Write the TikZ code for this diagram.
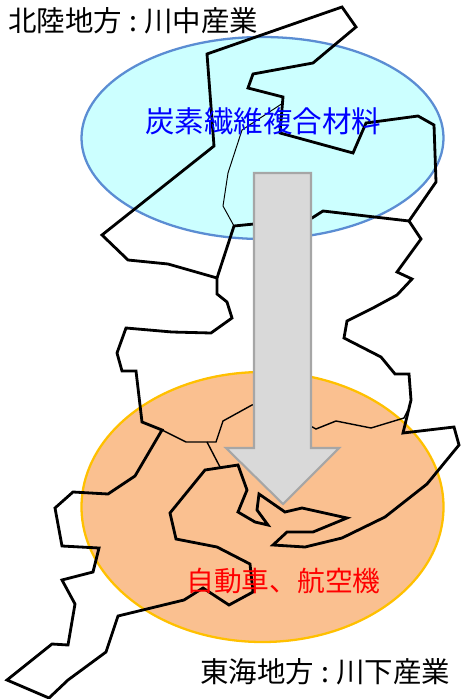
\documentclass[tikz,border=0pt]{standalone}
\usepackage{fontspec}
\newfontfamily\cjk{Noto Sans CJK JP}
\definecolor{ellipsecyan}{HTML}{CCFFFF}
\definecolor{ellipseblue}{HTML}{5B8DD3}
\definecolor{ellipseorange}{HTML}{FAC090}
\definecolor{ellipseamber}{HTML}{FFC000}
\tikzset{
    border/.style={black,line width=1.6pt,line join=miter},
    borderthin/.style={black,line width=0.55pt},
    bordermid/.style={black,line width=0.8pt},
    label/.style={font=\cjk\fontsize{16.2}{19}\selectfont,inner sep=0pt},
}
\begin{document}
\begin{tikzpicture}[x=0.02cm,y=-0.02cm]
    \useasboundingbox (0,0) rectangle (461,699);

    % Ellipses
    \draw[ellipseblue,fill=ellipsecyan,line width=1.3pt] (262.5,138) ellipse (181 and 101);
    \draw[ellipseamber,fill=ellipseorange,line width=1.3pt] (262.5,507) ellipse (181 and 135);

    % Outer outline
    \draw[border] (342,7) -- (356,27) -- (313,63) -- (253,74) -- (248,88) -- (283,97) -- (280,133)
        -- (353,153) -- (366,123) -- (418,116) -- (434,125) -- (436,182) -- (409,221) -- (421,239)
        -- (397,272) -- (412,279) -- (397,295) -- (373,308) -- (347,321) -- (344,338) -- (381,357)
        -- (395,374) -- (409,374) -- (411,400) -- (403,433) -- (454,427) -- (459,445) -- (427,484)
        -- (385,517) -- (342,538) -- (305,547) -- (273,545) -- (287,532) -- (313,532) -- (347,518)
        -- (302,508) -- (285,512) -- (259,494) -- (257,510) -- (268,525) -- (255,522) -- (238,512)
        -- (247,490) -- (238,465) -- (205,470) -- (170,513) -- (176,539) -- (217,547) -- (250,564)
        -- (253,592) -- (229,605) -- (203,588) -- (184,600) -- (118,616) -- (106,652) -- (68,680)
        -- (49,698) -- (7,680) -- (52,644) -- (68,645) -- (75,604) -- (62,580) -- (93,572) -- (99,548)
        -- (62,546) -- (55,508) -- (73,492) -- (108,494) -- (135,476) -- (162,430) -- (142,422)
        -- (136,371) -- (122,371) -- (117,353) -- (126,328) -- (172,332) -- (211,333) -- (232,318)
        -- (227,302) -- (217,294) -- (217,278) -- (168,264) -- (128,260) -- (102,235) -- (214,146)
        -- (207,54) -- cycle;

    % Borders inside
    \draw[border] (217,278) -- (234,226) -- (254,224) -- (312,218) -- (323,211) -- (409,221);
    \draw[borderthin] (283,103) -- (242,130) -- (228,173) -- (223,206) -- (234,226);
    \draw[bordermid] (162,430) -- (186,442) -- (216,442) -- (223,421) -- (252,405) -- (290,400);
    \draw[bordermid] (290,415) -- (316,429) -- (336,421) -- (371,428) -- (404,418) -- (408,410);
    \draw[bordermid] (207,442) -- (220,467);

    % Down arrow
    \draw[fill=gray!30,draw=gray!70,line width=1.2pt,line join=miter] (254,173) -- (311,173) -- (311,448)
        -- (339,448) -- (283,504) -- (226,448) -- (254,448) -- cycle;

    % Labels
    \node[label,anchor=west] (hokuriku) at (8,21) {北陸地方\hspace{0.25em}:\hspace{0.25em}川中産業};
    \node[label,anchor=west,text=blue,font=\cjk\fontsize{16.8}{19}\selectfont] (carbon) at (145,121) {炭素繊維複合材料};
    \node[label,anchor=west,text=red,font=\cjk\fontsize{15.8}{19}\selectfont] (auto) at (186,581) {自動車、航空機};
    \node[label,anchor=west] (tokai) at (200,672) {東海地方\hspace{0.25em}:\hspace{0.25em}川下産業};
\end{tikzpicture}
\end{document}
